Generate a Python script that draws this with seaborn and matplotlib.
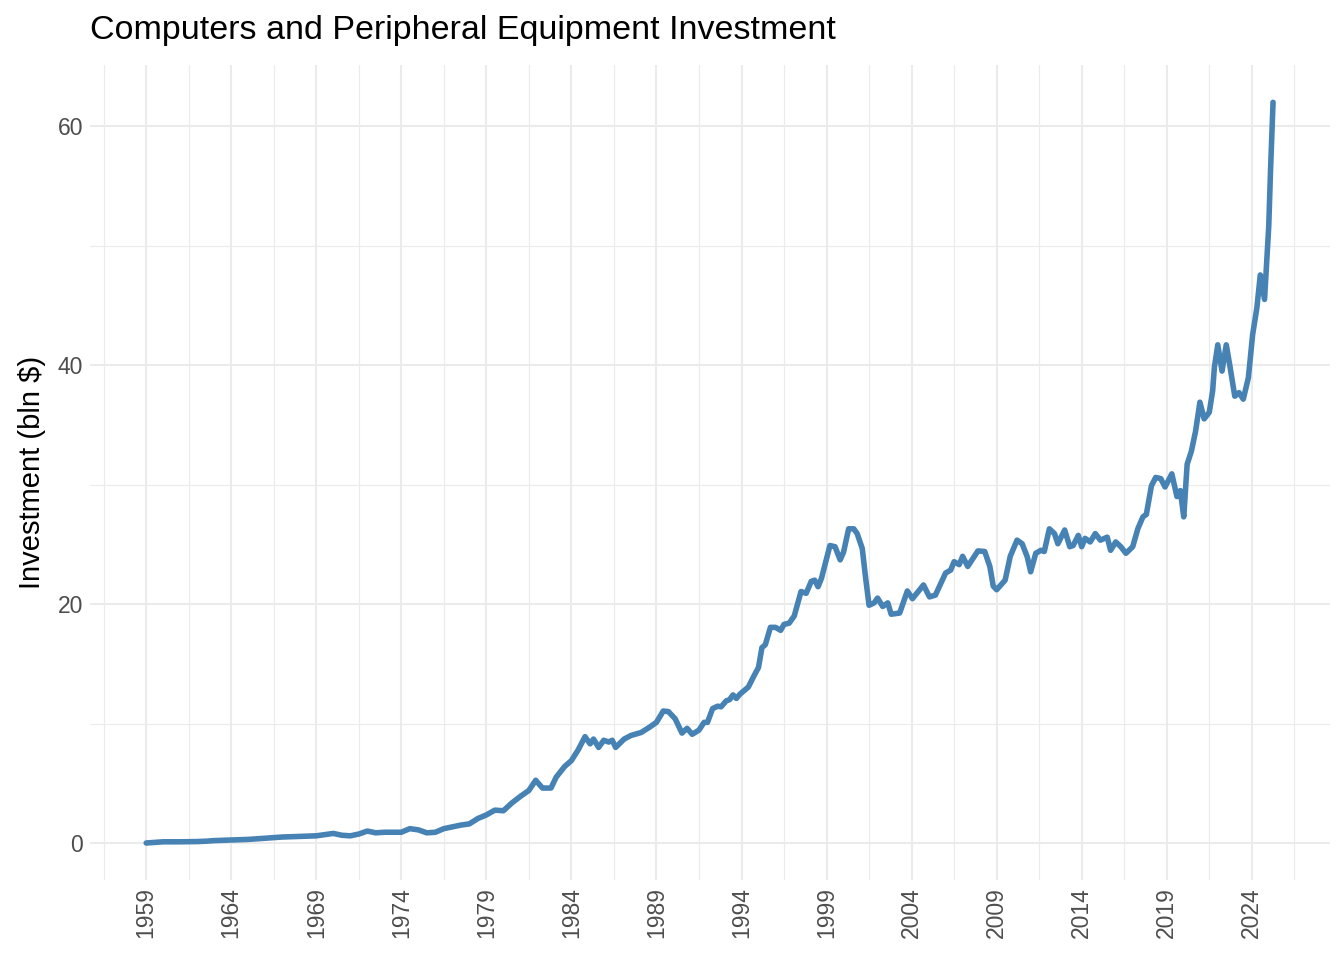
import matplotlib
matplotlib.use("Agg")
import matplotlib.pyplot as plt
from matplotlib.ticker import FixedLocator
import seaborn as sns
import pandas as pd

year = [1959.0, 1959.5, 1960.0, 1961.0, 1962.0, 1962.5, 1963.0, 1964.0, 1965.0, 1966.0,
        1967.0, 1968.0, 1969.0, 1969.5, 1970.0, 1970.5, 1971.0, 1971.5, 1972.0, 1972.5,
        1973.0, 1974.0, 1974.5, 1975.0, 1975.5, 1976.0, 1976.5, 1977.0, 1977.5, 1978.0,
        1978.5, 1979.0, 1979.5, 1980.0, 1980.5, 1981.0, 1981.5, 1981.9, 1982.3, 1982.8,
        1983.1, 1983.6, 1984.0, 1984.4, 1984.8, 1985.1, 1985.3, 1985.6, 1985.9, 1986.2,
        1986.4, 1986.6, 1987.1, 1987.5, 1988.1, 1988.6, 1989.0, 1989.4, 1989.7, 1990.1,
        1990.5, 1990.8, 1991.1, 1991.5, 1991.8, 1992.0, 1992.3, 1992.6, 1992.8, 1993.1,
        1993.3, 1993.5, 1993.7, 1993.9, 1994.4, 1994.7, 1995.0, 1995.2, 1995.4, 1995.7,
        1996.0, 1996.3, 1996.5, 1996.8, 1997.1, 1997.5, 1997.8, 1998.1, 1998.3, 1998.5,
        1998.7, 1999.2, 1999.5, 1999.8, 2000.0, 2000.3, 2000.6, 2000.8, 2001.1, 2001.3,
        2001.5, 2001.8, 2002.0, 2002.3, 2002.6, 2002.8, 2003.3, 2003.75, 2004.05, 2004.7,
        2005.05, 2005.4, 2006.0, 2006.3, 2006.5, 2006.8, 2007.0, 2007.3, 2007.9, 2008.3,
        2008.6, 2008.8, 2009.0, 2009.5, 2009.8, 2010.2, 2010.5, 2010.8, 2011.0, 2011.3,
        2011.6, 2011.8, 2012.1, 2012.4, 2012.6, 2013.0, 2013.3, 2013.5, 2013.8, 2014.0,
        2014.2, 2014.5, 2014.8, 2015.1, 2015.5, 2015.7, 2016.0, 2016.3, 2016.6, 2017.0,
        2017.3, 2017.6, 2017.8, 2018.1, 2018.35, 2018.65, 2018.9, 2019.3, 2019.6, 2019.8,
        2020.0, 2020.2, 2020.45, 2020.7, 2020.95, 2021.2, 2021.5, 2021.7, 2021.8, 2022.0,
        2022.25, 2022.5, 2022.7, 2023.0, 2023.25, 2023.5, 2023.8, 2024.05, 2024.3, 2024.5,
        2024.75, 2025.0, 2025.1, 2025.25]

investment = [0.0, 0.05, 0.1, 0.1, 0.12, 0.15, 0.2, 0.25, 0.3, 0.4,
              0.5, 0.55, 0.6, 0.7, 0.8, 0.65, 0.6, 0.75, 1.0, 0.85,
              0.9, 0.9, 1.2, 1.1, 0.85, 0.9, 1.2, 1.35, 1.5, 1.6,
              2.05, 2.35, 2.75, 2.7, 3.35, 3.9, 4.4, 5.25, 4.6, 4.6,
              5.5, 6.4, 6.9, 7.8, 8.9, 8.3, 8.7, 8.0, 8.6, 8.45,
              8.6, 8.0, 8.7, 9.0, 9.25, 9.7, 10.1, 11.05, 11.0, 10.4,
              9.2, 9.6, 9.1, 9.45, 10.1, 10.1, 11.25, 11.45, 11.4, 11.9,
              12.0, 12.4, 12.1, 12.45, 13.05, 13.9, 14.7, 16.35, 16.6, 18.05,
              18.05, 17.8, 18.3, 18.4, 19.0, 21.05, 20.9, 21.9, 22.0, 21.45,
              22.15, 24.9, 24.8, 23.7, 24.35, 26.3, 26.3, 25.9, 24.65, 22.15,
              19.9, 20.1, 20.5, 19.8, 20.1, 19.15, 19.25, 21.1, 20.45, 21.6,
              20.6, 20.75, 22.6, 22.85, 23.55, 23.3, 24.0, 23.15, 24.45, 24.4,
              23.15, 21.5, 21.2, 22.0, 24.0, 25.35, 25.05, 23.95, 22.7, 24.25,
              24.5, 24.4, 26.3, 25.9, 25.05, 26.2, 24.8, 24.9, 25.75, 24.8,
              25.5, 25.2, 25.9, 25.35, 25.6, 24.5, 25.2, 24.8, 24.25, 24.8,
              26.3, 27.3, 27.5, 29.9, 30.6, 30.5, 29.8, 30.9, 29.0, 29.5,
              27.3, 31.7, 32.8, 34.5, 36.9, 35.5, 36.05, 37.85, 39.8, 41.7,
              39.5, 41.7, 40.05, 37.4, 37.7, 37.15, 38.95, 42.55, 44.8, 47.55,
              45.5, 51.7, 56.2, 62.0]

x_ticks = list(range(1959, 2025, 5))
x_tick_labels = [str(y) for y in x_ticks]
y_ticks = [0, 20, 40, 60]

df = pd.DataFrame({"year": year, "investment": investment})

sns.set_style("white")
plt.rcParams["font.family"] = ["Liberation Sans", "DejaVu Sans"]

fig = plt.figure(figsize=(13.44, 9.6), dpi=100)
ax = fig.add_axes([0.067, 0.0833, 0.9226, 0.8487])

sns.lineplot(data=df, x="year", y="investment", ax=ax, color="#4682B4",
             linewidth=4.0, zorder=3)

ax.set_xlim(1955.7, 2028.6)
ax.set_ylim(-3.1, 65.1)

ax.xaxis.set_major_locator(FixedLocator(x_ticks))
ax.xaxis.set_minor_locator(FixedLocator([t + 2.5 for t in range(1954, 2030, 5)]))
ax.set_xticklabels(x_tick_labels, rotation=90)
ax.yaxis.set_major_locator(FixedLocator(y_ticks))
ax.yaxis.set_minor_locator(FixedLocator([10, 30, 50]))

ax.grid(which="major", color="#EBEBEB", linewidth=1.5, zorder=0)
ax.grid(which="minor", color="#EBEBEB", linewidth=0.8, zorder=0)
ax.set_axisbelow(True)

for s in ax.spines.values():
    s.set_visible(False)
ax.tick_params(axis="both", which="both", length=0, labelsize=16.5,
               labelcolor="#4D4D4D", pad=5)

ax.set_xlabel("")
ax.set_ylabel("Investment (bln $)", fontsize=21, color="black", labelpad=8)
fig.text(0.067, 0.968, "Computers and Peripheral Equipment Investment",
         fontsize=24.5, color="black", ha="left", va="center")

fig.savefig("out.png", dpi=100)
